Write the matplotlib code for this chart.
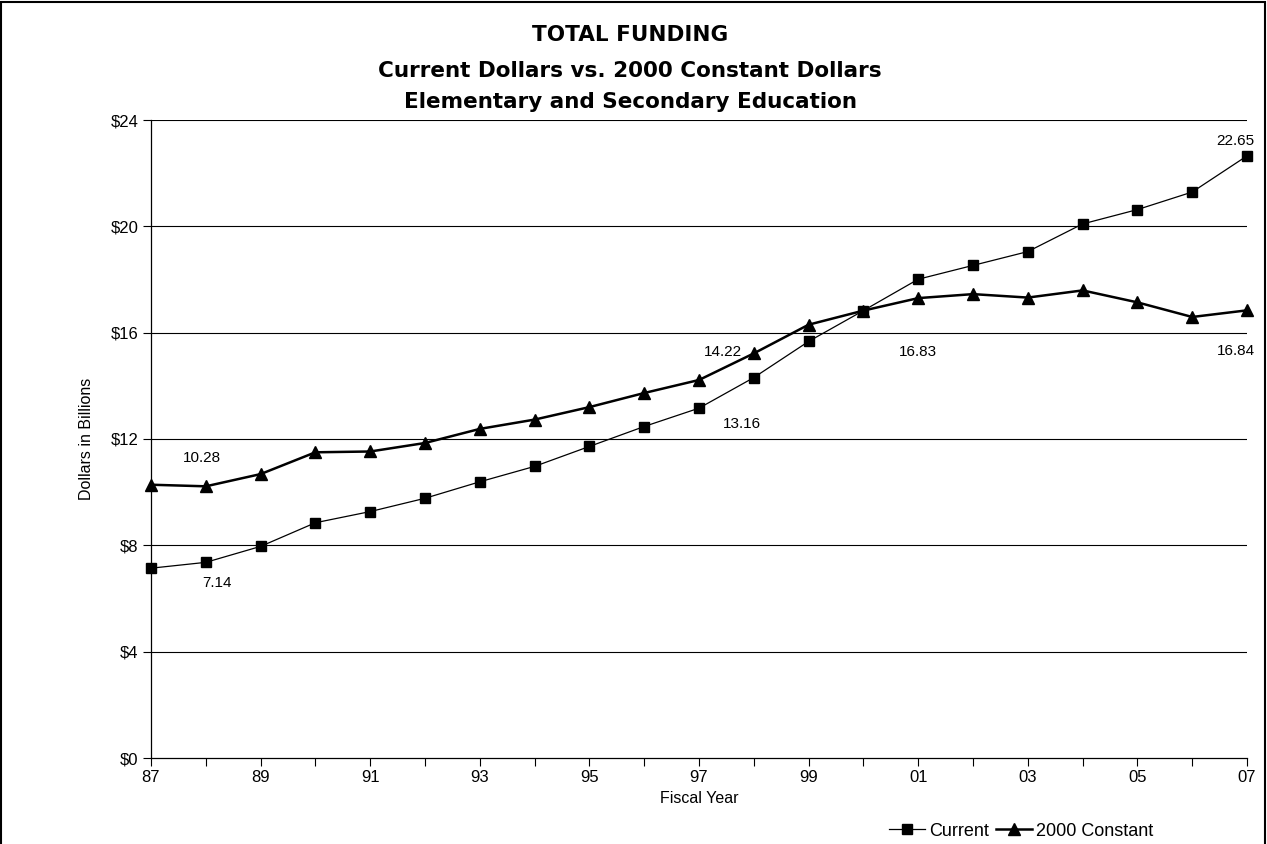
import matplotlib
matplotlib.use("Agg")
import matplotlib.pyplot as plt
from matplotlib.patches import Rectangle
from matplotlib.lines import Line2D

years = list(range(1987, 2008))
current = [7.14, 7.36, 7.96, 8.85, 9.27, 9.77, 10.39, 10.97, 11.72, 12.47, 13.16,
           14.31, 15.67, 16.83, 18.01, 18.53, 19.05, 20.09, 20.63, 21.29, 22.65]
constant = [10.28, 10.22, 10.68, 11.50, 11.53, 11.85, 12.38, 12.73, 13.20, 13.73, 14.22,
            15.22, 16.30, 16.83, 17.30, 17.45, 17.32, 17.59, 17.14, 16.59, 16.84]
yticks = [0, 4, 8, 12, 16, 20, 24]
ytick_labels = ["$0", "$4", "$8", "$12", "$16", "$20", "$24"]
xtick_years = list(range(1987, 2008, 2))
xtick_labels = ["87", "89", "91", "93", "95", "97", "99", "01", "03", "05", "07"]
title_lines = ["TOTAL FUNDING", "Current Dollars vs. 2000 Constant Dollars",
               "Elementary and Secondary Education"]

# data labels: (series, index, text)
label_series = ["constant", "current", "constant", "current", "current", "current", "constant"]
label_index = [0, 0, 10, 10, 13, 20, 20]
label_text = ["10.28", "7.14", "14.22", "13.16", "16.83", "22.65", "16.84"]
label_offsets = [(51, 27), (66, -15), (24, 28), (43, -16), (55, -41), (-12, 15), (-11, -41)]

W, H = 1267, 844
fig = plt.figure(figsize=(W / 100, H / 100), dpi=100)
fig.patch.set_facecolor("white")
ax = fig.add_axes([151 / W, (H - 758) / H, 1096 / W, 638 / H])

font = "Liberation Sans"

ax.plot(years, current, color="black", lw=0.9, marker="s", markersize=7,
        markerfacecolor="black", markeredgecolor="black", clip_on=False, zorder=4)
ax.plot(years, constant, color="black", lw=1.8, marker="^", markersize=8,
        markerfacecolor="black", markeredgecolor="black", clip_on=False, zorder=4)

ax.set_xlim(1987, 2007)
ax.set_ylim(0, 24)
ax.set_yticks(yticks)
ax.set_yticklabels(ytick_labels, fontfamily=font, fontsize=12)
ax.set_xticks(years, minor=False)
ax.set_xticklabels([xtick_labels[xtick_years.index(y)] if y in xtick_years else "" for y in years],
                   fontfamily=font, fontsize=12)
ax.tick_params(axis="both", direction="out", length=6, width=0.8, color="black", pad=3)

for y in yticks[1:]:
    ax.axhline(y, color="black", lw=0.8, zorder=1)

for s in ["top", "right"]:
    ax.spines[s].set_visible(False)
for s in ["left", "bottom"]:
    ax.spines[s].set_color("black")
    ax.spines[s].set_linewidth(0.9)

ax.set_ylabel("Dollars in Billions", fontfamily=font, fontsize=11.5, labelpad=12)
ax.set_xlabel("Fiscal Year", fontfamily=font, fontsize=11.5, labelpad=4)

series = {"current": current, "constant": constant}
for s, i, t, off in zip(label_series, label_index, label_text, label_offsets):
    ax.annotate(t, (years[i], series[s][i]), xytext=off, textcoords="offset pixels",
                ha="center", va="center", fontfamily=font, fontsize=11, zorder=5)

title_y = [35, 71, 102]
for t, yy in zip(title_lines, title_y):
    fig.text(630 / W, 1 - yy / H, t, ha="center", va="center",
             fontfamily="DejaVu Sans", fontweight="bold", fontsize=15.5)

handles = [Line2D([], [], color="black", lw=0.9, marker="s", markersize=7),
           Line2D([], [], color="black", lw=1.8, marker="^", markersize=8)]
fig.legend(handles, ["Current", "2000 Constant"], loc="center",
           bbox_to_anchor=(1021 / W, 1 - 831 / H), ncol=2, frameon=False,
           prop={"family": font, "size": 13}, handlelength=2.0, handletextpad=0.2,
           columnspacing=0.4)

fig.add_artist(Rectangle((1 / W, -0.01), (W - 3) / W, 1.01 - 1.5 / H,
                         transform=fig.transFigure, fill=False, edgecolor="black", lw=1.5))

fig.savefig("out.png", dpi=100)
